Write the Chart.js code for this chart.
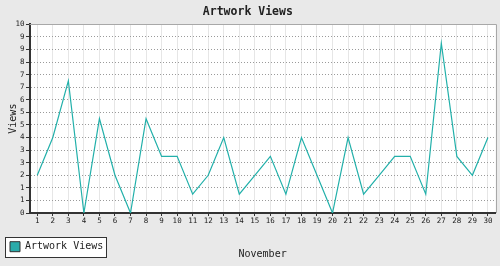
<!DOCTYPE html>
<html>
<head>
<meta charset="utf-8">
<script src="https://cdn.jsdelivr.net/npm/chart.js@4/dist/chart.umd.min.js"></script>
<style>
  html, body { margin: 0; padding: 0; background: #e9e9e9; }
</style>
</head>
<body>
<canvas id="views-chart" width="500" height="266"></canvas>
<script>
const days = ['1', '2', '3', '4', '5', '6', '7', '8', '9', '10',
  '11', '12', '13', '14', '15', '16', '17', '18', '19', '20',
  '21', '22', '23', '24', '25', '26', '27', '28', '29', '30']
const views = [2, 4, 7, 0, 5, 2, 0, 5, 3, 3, 1, 2, 4, 1, 2, 3, 1, 4, 2, 0,
  4, 1, 2, 3, 3, 1, 9, 3, 2, 4]
// the y axis has 15 steps from 0 to 10, labels are rounded
const yTicks = [0, 2 / 3, 4 / 3, 2, 8 / 3, 10 / 3, 4, 14 / 3, 16 / 3, 6,
  20 / 3, 22 / 3, 8, 26 / 3, 28 / 3, 10]
const yTickLabels = ['0', '1', '1', '2', '3', '3', '4', '5', '5', '6',
  '7', '7', '8', '9', '9', '10']

const mono = "'DejaVu Sans Mono', 'Liberation Mono', monospace"

// gray page, white plot area, boxed legend, gray top/right frame
const frame = {
  id: 'frame',
  beforeDraw (chart) {
    const { ctx, chartArea: a } = chart
    ctx.save()
    ctx.fillStyle = '#e9e9e9'
    ctx.fillRect(0, 0, chart.width, chart.height)
    ctx.fillStyle = '#fff'
    ctx.fillRect(a.left, a.top, a.right - a.left, a.bottom - a.top)
    const hb = chart.legend.legendHitBoxes[0]
    if (hb) {
      const x = Math.round(hb.left - 5) + 0.5
      const y = Math.round(hb.top - 5) + 0.5
      const w = Math.round(hb.width + 8)
      const h = Math.round(hb.height + 10)
      ctx.fillRect(x, y, w, h)
      ctx.strokeStyle = '#333'
      ctx.lineWidth = 1
      ctx.strokeRect(x, y, w, h)
    }
    ctx.restore()
  },
  beforeDatasetsDraw (chart) {
    const { ctx, chartArea: a } = chart
    ctx.save()
    ctx.strokeStyle = '#a8a8a8'
    ctx.lineWidth = 1
    ctx.beginPath()
    ctx.moveTo(a.left, Math.round(a.top) + 0.5)
    ctx.lineTo(Math.round(a.right) + 0.5, Math.round(a.top) + 0.5)
    ctx.lineTo(Math.round(a.right) + 0.5, a.bottom)
    ctx.stroke()
    ctx.restore()
  }
}

const ctx = document.getElementById('views-chart')

new Chart(ctx, {
  type: 'line',
  plugins: [frame],
  data: {
    labels: days,
    datasets: [{
      label: 'Artwork Views',
      data: views,
      borderColor: '#22b0aa',
      backgroundColor: '#2aabaa',
      borderWidth: 1.2,
      pointRadius: 0,
      tension: 0,
      fill: false
    }]
  },
  options: {
    responsive: false,
    animation: false,
    layout: {
      padding: { top: 0, left: 0, right: 4.3, bottom: 4.3 }
    },
    plugins: {
      title: {
        display: true,
        text: 'Artwork Views',
        color: '#222',
        font: { family: mono, size: 11.5, weight: 'bold' },
        padding: { top: 5, bottom: 5.5 }
      },
      legend: {
        position: 'bottom',
        align: 'start',
        labels: {
          boxWidth: 10,
          boxHeight: 10,
          padding: 10,
          color: '#222',
          font: { family: mono, size: 10 },
          generateLabels: (chart) => Chart.defaults.plugins.legend.labels.generateLabels(chart)
            .map(l => Object.assign(l, { strokeStyle: '#333', lineWidth: 1 }))
        }
      },
      tooltip: { enabled: false }
    },
    scales: {
      x: {
        offset: true,
        grid: { color: '#e6e6e6', tickColor: '#333', tickLength: 3 },
        border: { color: '#333', width: 2 },
        ticks: {
          color: '#222',
          font: { family: mono, size: 7.5 },
          padding: 1,
          maxRotation: 0,
          autoSkip: false
        },
        title: {
          display: true,
          text: 'November',
          color: '#222',
          font: { family: mono, size: 10 },
          padding: { top: 0, bottom: -28.6 }
        },
        afterFit: (scale) => { scale.height = 18.7 }
      },
      y: {
        min: 0,
        max: 10,
        afterBuildTicks: (scale) => { scale.ticks = yTicks.map(v => ({ value: v })) },
        grid: { color: '#9a9a9a', tickColor: '#333', tickLength: 3.5 },
        border: { color: '#333', width: 2, dash: [1, 2] },
        ticks: {
          color: '#222',
          font: { family: mono, size: 7.5 },
          padding: 1.5,
          callback: (value, i) => yTickLabels[i]
        },
        title: {
          display: true,
          text: 'Views',
          color: '#222',
          font: { family: mono, size: 10 },
          padding: { top: 7, bottom: 0 }
        },
        afterFit: (scale) => { scale.width = 29.5 }
      }
    }
  }
})
</script>
</body>
</html>
